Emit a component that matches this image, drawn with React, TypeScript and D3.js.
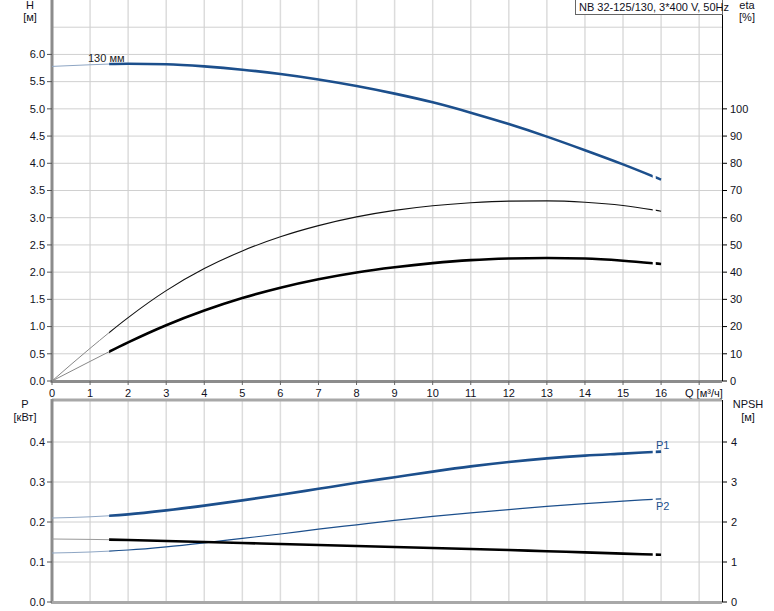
import React from 'react';
import * as d3 from 'd3';

const Q = [0, 1, 2, 3, 4, 5, 6, 7, 8, 9, 10, 11, 12, 13, 14, 15, 16];
const H_VALUES = [5.78, 5.81, 5.83, 5.82, 5.78, 5.72, 5.64, 5.54, 5.42, 5.28, 5.12, 4.93, 4.72, 4.49, 4.24, 3.98, 3.7];
const ETA_PUMP = [0, 12, 23.3, 33.2, 41.3, 47.8, 53, 57.1, 60.3, 62.7, 64.4, 65.5, 66.1, 66.2, 65.7, 64.5, 62.4];
const ETA_TOTAL = [0, 7.2, 14.2, 20.5, 25.9, 30.5, 34.3, 37.4, 39.9, 41.8, 43.3, 44.4, 45.0, 45.2, 45.0, 44.2, 43.0];
const P1_VALUES = [0.21, 0.213, 0.219, 0.229, 0.241, 0.254, 0.268, 0.283, 0.298, 0.312, 0.326, 0.339, 0.35, 0.359, 0.366, 0.371, 0.376];
const P2_VALUES = [0.1225, 0.125, 0.13, 0.138, 0.148, 0.159, 0.17, 0.182, 0.193, 0.204, 0.214, 0.223, 0.231, 0.239, 0.246, 0.252, 0.258];
const NPSH_VALUES = [1.575, 1.565, 1.55, 1.525, 1.5, 1.475, 1.45, 1.425, 1.4, 1.375, 1.35, 1.325, 1.3, 1.27, 1.24, 1.21, 1.18];

const Q_TICKS = [0, 1, 2, 3, 4, 5, 6, 7, 8, 9, 10, 11, 12, 13, 14, 15, 16];
const Q_GRID = [1, 2, 3, 4, 5, 6, 7, 8, 9, 10, 11, 12, 13, 14, 15, 16, 17];
const H_TICKS = [0, 0.5, 1, 1.5, 2, 2.5, 3, 3.5, 4, 4.5, 5, 5.5, 6];
const H_GRID = [0.5, 1, 1.5, 2, 2.5, 3, 3.5, 4, 4.5, 5, 5.5, 6, 6.5];
const ETA_TICKS = [0, 10, 20, 30, 40, 50, 60, 70, 80, 90, 100];
const P_TICKS = [0, 0.1, 0.2, 0.3, 0.4];
const P_GRID = [0.1, 0.2, 0.3, 0.4];
const NPSH_TICKS = [0, 1, 2, 3, 4];
const TITLE = 'NB 32-125/130, 3*400 V, 50Hz';

const FONT = "'Liberation Sans', Arial, sans-serif";
const BLUE = '#1c4f8c';
const TXT = '#111122';

export default function App() {
  const x = d3.scaleLinear().domain([0, 17.6]).range([52, 722]);
  const yH = d3.scaleLinear().domain([0, 7]).range([381, 0]);
  const yEta = d3.scaleLinear().domain([0, 140]).range([381, 0]);
  const yP = d3.scaleLinear().domain([0, 0.5]).range([602, 402]);
  const yN = d3.scaleLinear().domain([0, 5]).range([602, 402]);

  const mk = (vals: number[], y: d3.ScaleLinear<number, number>) =>
    d3.line<number>().x((_, i) => x(Q[i])).y((v) => y(v)).curve(d3.curveMonotoneX)(vals) || '';

  const clips = [
    { id: 'cs', a: -1, b: 1.5 },
    { id: 'cm', a: 1.5, b: 15.78 },
    { id: 'ce', a: 15.86, b: 16.02 },
  ];

  const curve = (d: string, color: string, thin: string, w: number, key: string) => (
    <g key={key} fill="none" strokeLinejoin="round">
      <path d={d} stroke={thin} strokeWidth={1} clipPath="url(#cs)" />
      <path d={d} stroke={color} strokeWidth={w} clipPath="url(#cm)" />
      <path d={d} stroke={color} strokeWidth={w} clipPath="url(#ce)" />
    </g>
  );

  const txt = { fontFamily: FONT, fontSize: 11, fill: TXT } as const;

  return (
    <svg width={774} height={611} style={{ position: 'absolute', left: 0, top: 0, background: '#fff' }}>
      <defs>
        {clips.map((c) => (
          <clipPath id={c.id} key={c.id}>
            <rect x={x(c.a)} y={0} width={x(c.b) - x(c.a)} height={611} />
          </clipPath>
        ))}
      </defs>
      <rect width={774} height={611} fill="#fff" />

      {Q_GRID.map((q) => (
        <line key={'vt' + q} x1={x(q)} x2={x(q)} y1={0} y2={381} stroke="#dcdcdc" strokeWidth={1.5} />
      ))}
      {H_GRID.map((h) => (
        <line key={'ht' + h} x1={52} x2={722} y1={yH(h)} y2={yH(h)} stroke="#d0d0d0" strokeWidth={1} />
      ))}
      {Q_GRID.map((q) => (
        <line key={'vb' + q} x1={x(q)} x2={x(q)} y1={400} y2={602} stroke="#dcdcdc" strokeWidth={1.5} />
      ))}
      {P_GRID.map((p) => (
        <line key={'hb' + p} x1={52} x2={722} y1={yP(p)} y2={yP(p)} stroke="#d0d0d0" strokeWidth={1} />
      ))}

      <line x1={52} x2={52} y1={0} y2={383} stroke="#8c8c8c" strokeWidth={3} />
      <line x1={51} x2={722} y1={381.5} y2={381.5} stroke="#8c8c8c" strokeWidth={3} />
      <line x1={722.5} x2={722.5} y1={0} y2={381} stroke="#000" strokeWidth={1} />
      {H_TICKS.map((h) => (
        <g key={'hl' + h}>
          <line x1={47} x2={52} y1={yH(h)} y2={yH(h)} stroke="#555" />
          <text {...txt} x={45} y={yH(h)} dy="0.35em" textAnchor="end">{h.toFixed(1)}</text>
        </g>
      ))}
      {ETA_TICKS.map((e) => (
        <g key={'el' + e}>
          <line x1={722} x2={727} y1={yEta(e)} y2={yEta(e)} stroke="#000" />
          <text {...txt} x={730} y={yEta(e)} dy="0.35em">{e}</text>
        </g>
      ))}
      {Q_TICKS.map((q) => (
        <g key={'ql' + q}>
          <line x1={x(q)} x2={x(q)} y1={381} y2={385} stroke="#666" />
          <text {...txt} x={x(q)} y={393} dy="0.35em" textAnchor="middle">{q}</text>
        </g>
      ))}
      <line x1={x(17)} x2={x(17)} y1={381} y2={385} stroke="#666" />
      <text {...txt} x={685} y={393} dy="0.35em">Q [м³/ч]</text>

      <text {...txt} x={30} y={9} textAnchor="middle">H</text>
      <text {...txt} x={30} y={21} textAnchor="middle">[м]</text>
      <text {...txt} x={747} y={9} textAnchor="middle">eta</text>
      <text {...txt} x={747} y={21} textAnchor="middle">[%]</text>

      <rect x={575.5} y={-1} width={147} height={15.5} fill="#fff" stroke="#666" strokeWidth={1} />
      <text {...txt} x={579} y={11}>{TITLE}</text>

      <line x1={52} x2={722} y1={400} y2={400} stroke="#a8a8a8" strokeWidth={3} />
      <line x1={52} x2={52} y1={399} y2={603} stroke="#8c8c8c" strokeWidth={3} />
      <line x1={51} x2={722} y1={602.5} y2={602.5} stroke="#a8a8a8" strokeWidth={3} />
      <line x1={722.5} x2={722.5} y1={400} y2={602} stroke="#000" strokeWidth={1} />
      {P_TICKS.map((p) => (
        <g key={'pl' + p}>
          <line x1={47} x2={52} y1={yP(p)} y2={yP(p)} stroke="#555" />
          <text {...txt} x={45} y={yP(p)} dy="0.35em" textAnchor="end">{p.toFixed(1)}</text>
        </g>
      ))}
      {NPSH_TICKS.map((n) => (
        <g key={'nl' + n}>
          <line x1={722} x2={727} y1={yN(n)} y2={yN(n)} stroke="#000" />
          <text {...txt} x={731} y={yN(n)} dy="0.35em">{n}</text>
        </g>
      ))}
      <text {...txt} x={25} y={408} textAnchor="middle">P</text>
      <text {...txt} x={25} y={421} textAnchor="middle">[кВт]</text>
      <text {...txt} x={748} y={408} textAnchor="middle">NPSH</text>
      <text {...txt} x={748} y={421} textAnchor="middle">[м]</text>

      {curve(mk(ETA_PUMP, yEta), '#111', '#888', 1.1, 'etap')}
      {curve(mk(ETA_TOTAL, yEta), '#000', '#888', 2.6, 'etat')}
      {curve(mk(H_VALUES, yH), BLUE, '#8ea6c4', 2.6, 'h')}
      {curve(mk(P1_VALUES, yP), BLUE, '#8ea6c4', 2.6, 'p1')}
      {curve(mk(P2_VALUES, yP), BLUE, '#8ea6c4', 1.2, 'p2')}
      {curve(mk(NPSH_VALUES, yN), '#000', '#999', 2.6, 'npsh')}

      <text {...txt} x={88} y={58} dy="0.35em" fill="#222">130 мм</text>
      <text {...txt} x={656} y={445} dy="0.35em" fill={BLUE}>P1</text>
      <text {...txt} x={656} y={506} dy="0.35em" fill={BLUE}>P2</text>
    </svg>
  );
}
